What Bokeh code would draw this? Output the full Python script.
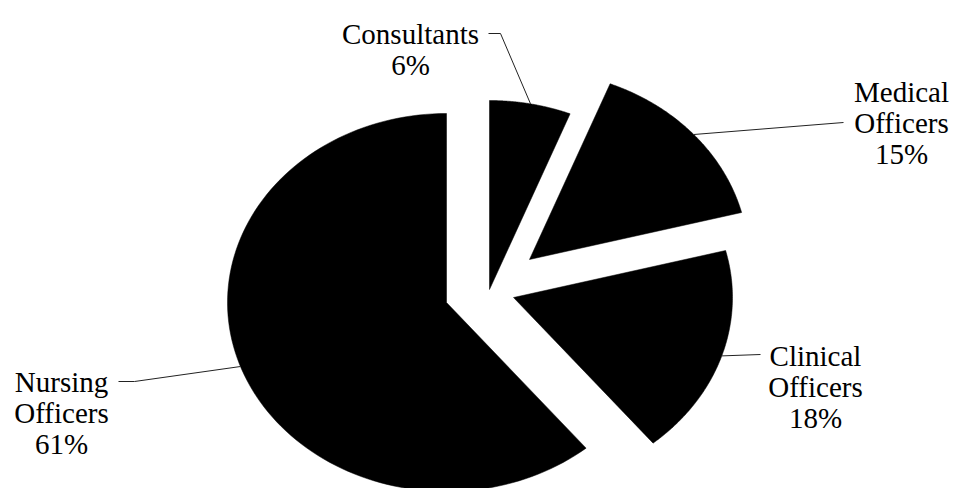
import numpy as np
from bokeh.plotting import figure
from bokeh.models import Range1d, ColumnDataSource
from bokeh.core.properties import value
from bokeh.embed import file_html
from bokeh.resources import INLINE

# ---- data ----
categories = ["Consultants", "Medical Officers", "Clinical Officers", "Nursing Officers"]
shares = [6, 15, 18, 61]
label_lines = [["Consultants", "6%"], ["Medical", "Officers", "15%"],
               ["Clinical", "Officers", "18%"], ["Nursing", "Officers", "61%"]]

# ---- layout (pixel-like data space, y up) ----
W, H = 955, 488
RX, RY = 219, 189                      # elliptical pie radii
apex = {"Consultants": (489, 199), "Medical Officers": (529, 229),
        "Clinical Officers": (513, 191), "Nursing Officers": (446, 186)}
label_pos = {"Consultants": (410, 455), "Medical Officers": (901, 397),
             "Clinical Officers": (815, 133), "Nursing Officers": (61, 107)}
line_step = 31
leader_pts = {"Consultants": [(500, 455), (488, 455)],
              "Medical Officers": [(843, 366)],
              "Clinical Officers": [(760, 134)],
              "Nursing Officers": [(134, 107), (118, 107)]}

p = figure(width=W, height=H, output_backend="svg", toolbar_location=None,
           x_range=Range1d(0, W), y_range=Range1d(0, H), min_border=0)
p.axis.visible = False
p.grid.visible = False
p.outline_line_color = None
p.background_fill_color = "white"
p.border_fill_color = "white"

total = float(sum(shares))
start = 0.0
xs, ys = [], []
lx, ly = [], []
tx, ty, tt = [], [], []
for cat, s, lines in zip(categories, shares, label_lines):
    a0 = start
    a1 = start + 360.0 * s / total
    start = a1
    cx, cy = apex[cat]
    th = np.radians(np.linspace(a0, a1, 120))
    px = [cx] + list(cx + RX * np.sin(th))
    py = [cy] + list(cy + RY * np.cos(th))
    xs.append(px)
    ys.append(py)
    mid = np.radians((a0 + a1) / 2)
    ax_, ay_ = cx + RX * np.sin(mid), cy + RY * np.cos(mid)
    pts = [(ax_, ay_)] + leader_pts[cat]
    lx.append([q[0] for q in pts])
    ly.append([q[1] for q in pts])
    bx, by = label_pos[cat]
    for i, t in enumerate(lines):
        tx.append(bx)
        ty.append(by - i * line_step)
        tt.append(t)

p.patches(xs, ys, fill_color="black", line_color="black", line_width=0.5)
p.multi_line(lx, ly, line_color="#222222", line_width=1)

src = ColumnDataSource(dict(x=tx, y=ty, text=tt))
p.text(x="x", y="y", text="text", source=src, text_align="center",
       text_baseline="alphabetic", text_font=value("Liberation Serif"),
       text_font_size="29px", text_color="black")

open("out.html", "w").write(file_html(p, INLINE))
